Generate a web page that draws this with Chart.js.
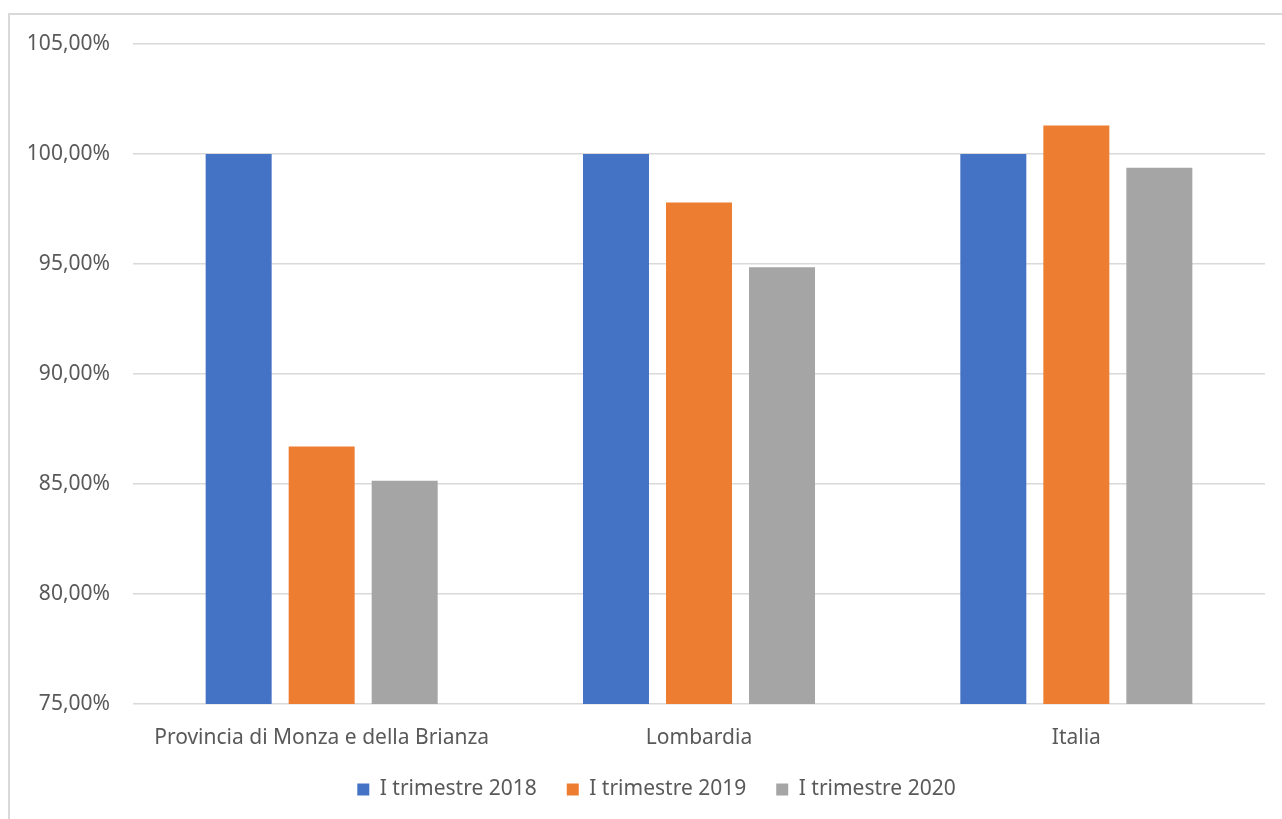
<!DOCTYPE html>
<html>
  <head>
    <title>Indice trimestrale</title>
    <script src="https://cdn.jsdelivr.net/npm/chart.js"></script>
    <style>
      body { margin: 0; background: #fff; }
      #wrap { width: 1282px; height: 819px; position: relative; }
    </style>
  </head>
  <body>
    <div id="wrap"><canvas id="trimChart" width="1282" height="819"></canvas></div>

    <script>
      const areas = ["Provincia di Monza e della Brianza", "Lombardia", "Italia"];
      const seriesNames = ["I trimestre 2018", "I trimestre 2019", "I trimestre 2020"];
      const q2018 = [100.0, 100.0, 100.0];
      const q2019 = [86.7, 97.8, 101.3];
      const q2020 = [85.15, 94.85, 99.38];
      const colors = ["#4472C4", "#ED7D31", "#A5A5A5"];

      const textColor = "#595959";
      const gridColor = "#D9D9D9";
      const font = { family: "'Noto Sans', 'Open Sans', sans-serif", size: 21 };

      // light frame around the whole chart
      const frame = {
        id: "frame",
        beforeDraw(chart) {
          const c = chart.ctx;
          c.save();
          c.strokeStyle = gridColor;
          c.lineWidth = 2;
          c.strokeRect(9, 14, 1300, 830);
          c.restore();
        },
      };

      // nudge the legend a little to the right
      const legendShift = {
        id: "legendShift",
        afterLayout(chart) {
          if (chart.legend) {
            chart.legend.left += 12;
            chart.legend.right += 12;
          }
        },
      };

      const ctx = document.getElementById("trimChart").getContext("2d");
      new Chart(ctx, {
        type: "bar",
        data: {
          labels: areas,
          datasets: [q2018, q2019, q2020].map((d, i) => ({
            label: seriesNames[i],
            data: d,
            backgroundColor: colors[i],
            categoryPercentage: 0.66,
            barPercentage: 0.795,
          })),
        },
        options: {
          responsive: false,
          animation: false,
          layout: { padding: { left: 24, right: 17, top: 44, bottom: 9 } },
          plugins: {
            tooltip: { enabled: false },
            legend: {
              position: "bottom",
              labels: {
                color: textColor,
                font: font,
                boxWidth: 12,
                boxHeight: 12,
                padding: 30,
              },
            },
          },
          scales: {
            x: {
              grid: { display: false },
              border: { display: false },
              ticks: { color: textColor, font: font, padding: 13, maxRotation: 0 },
              afterFit(scale) { scale.height = 45; },
            },
            y: {
              min: 75,
              max: 105,
              border: { display: false },
              grid: { color: gridColor, lineWidth: 1.5, drawTicks: false },
              ticks: {
                stepSize: 5,
                color: textColor,
                font: font,
                padding: 23,
                callback: (v) => v.toFixed(2).replace(".", ",") + "%",
              },
              afterFit(scale) { scale.width = 109; },
            },
          },
        },
        plugins: [frame, legendShift],
      });
    </script>
  </body>
</html>
